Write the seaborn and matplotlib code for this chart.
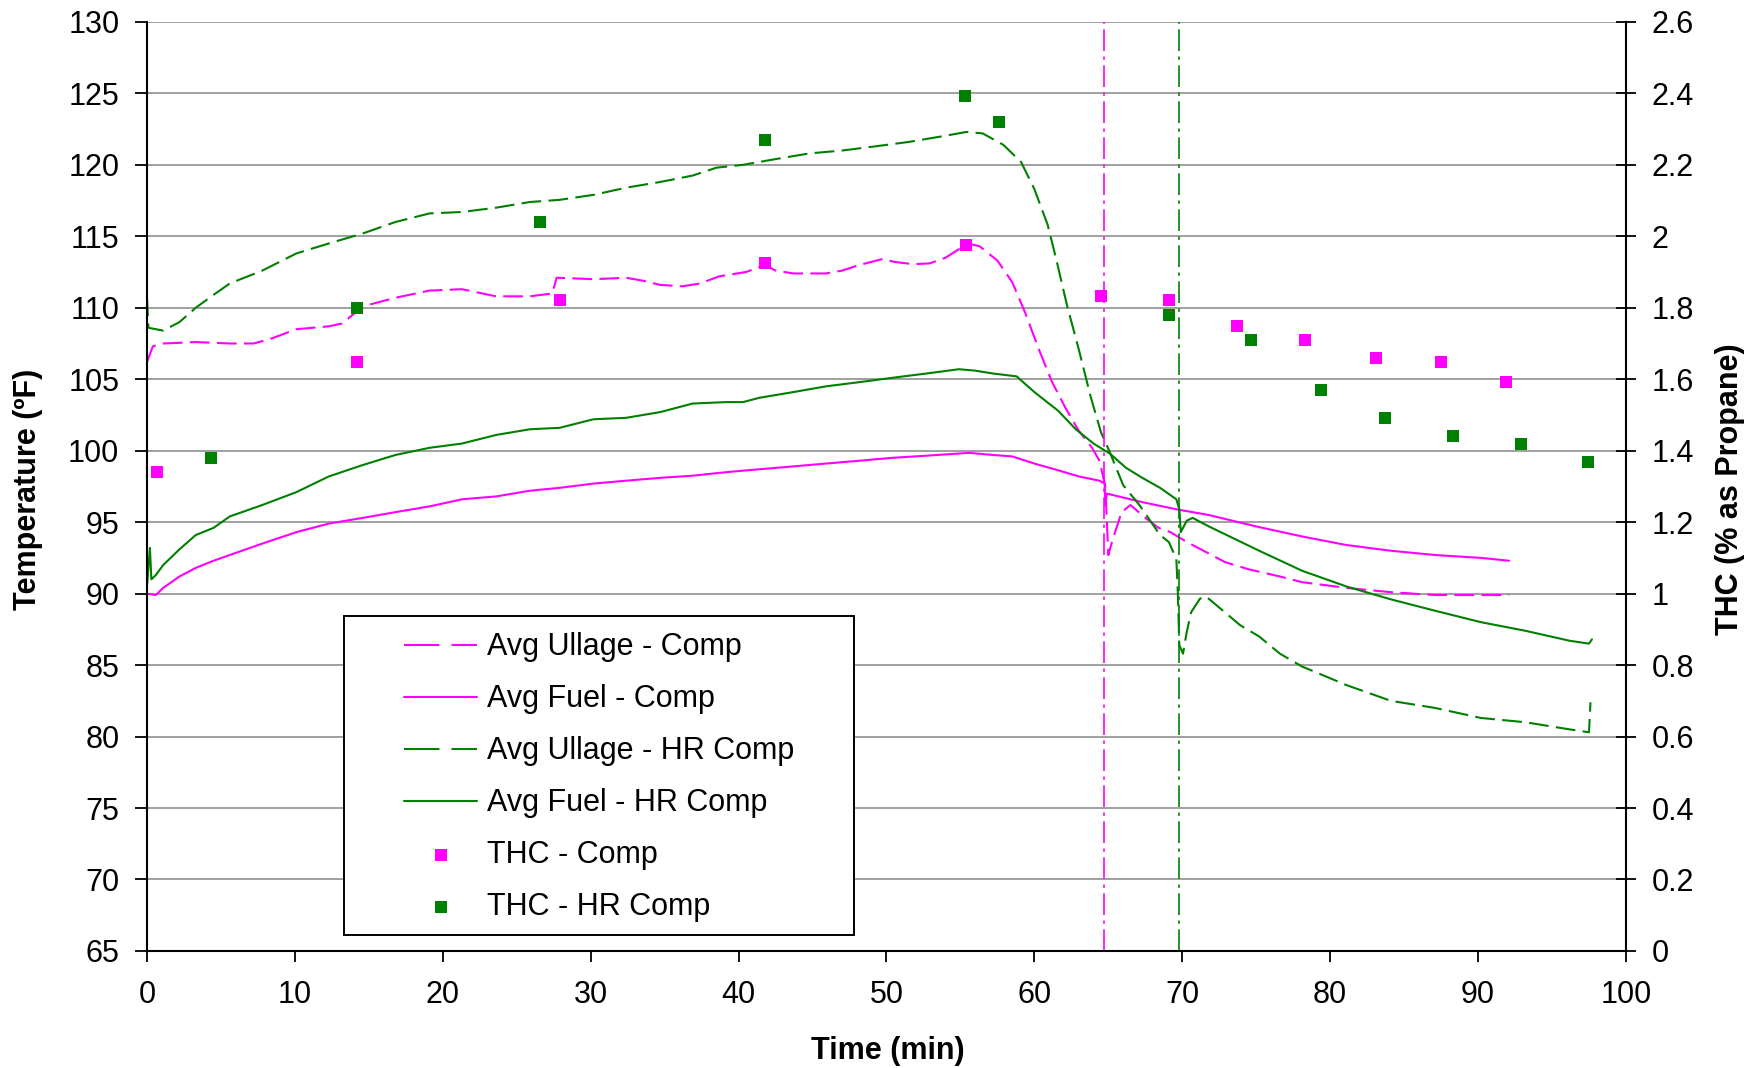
#!/usr/bin/env python3
"""
Ullage / fuel temperatures and THC for the Comp and HR Comp tanks.
Left axis: temperature (lines), right axis: THC (squares).
Writes out.png.
"""
import matplotlib
matplotlib.use("Agg")

import matplotlib.pyplot as plt
import seaborn as sns
from matplotlib.patches import Rectangle

MAGENTA = "#FF00FF"
GREEN = "#008000"

# Avg Ullage - Comp (time in min, temperature in F)
ullage_comp_t = [0.0, 0.4, 1.1, 3.3, 5.6, 7.2, 8.3, 10.1, 12.3, 13.2, 13.9, 14.6, 16.8,
                 19.1, 21.3, 23.6, 25.9, 27.4, 27.7, 30.2, 32.4, 33.5, 34.7, 36.2, 37.4,
                 38.7, 40.5, 41.8, 42.5, 43.7, 45.9, 47.0, 48.2, 49.7, 50.6, 51.8, 52.9,
                 54.0, 54.9, 55.5, 56.3, 57.5, 58.5, 59.4, 60.3, 61.2, 62.1, 63.0, 63.9,
                 64.4, 64.8, 65.0, 65.3, 65.9, 66.5, 67.5, 68.4, 69.2, 70.0, 70.7, 72.9,
                 74.5, 76.6, 78.1, 81.1, 84.1, 87.1, 92.1]
ullage_comp = [106.2, 107.3, 107.5, 107.6, 107.5, 107.5, 107.8, 108.5, 108.7, 108.9, 109.5,
               110.1, 110.7, 111.2, 111.3, 110.8, 110.8, 111.0, 112.1, 112.0, 112.1, 111.9,
               111.6, 111.5, 111.7, 112.2, 112.5, 113.0, 112.6, 112.4, 112.4, 112.6, 113.0,
               113.4, 113.2, 113.05, 113.1, 113.5, 114.1, 114.5, 114.3, 113.3, 111.8, 109.6,
               107.1, 104.8, 103.0, 101.4, 100.2, 99.3, 97.5, 92.7, 93.8, 95.7, 96.2, 95.3,
               94.6, 94.3, 93.8, 93.4, 92.2, 91.7, 91.2, 90.8, 90.4, 90.1, 89.9, 89.9]

# Avg Fuel - Comp
fuel_comp_t = [0.0, 0.6, 1.1, 2.2, 3.3, 4.5, 5.6, 7.8, 10.1, 12.3, 14.6, 16.8, 19.1, 21.3,
               23.6, 25.9, 27.9, 30.2, 32.4, 34.7, 36.9, 39.2, 41.4, 43.7, 45.9, 48.2, 50.4,
               52.7, 55.6, 57.2, 58.5, 60.0, 61.7, 63.0, 64.4, 64.75, 64.8, 64.9, 65.3, 67.3,
               69.6, 71.8, 75.0, 78.1, 81.1, 84.1, 87.1, 90.2, 92.1]
fuel_comp = [90.0, 89.9, 90.4, 91.2, 91.8, 92.3, 92.7, 93.5, 94.3, 94.9, 95.3, 95.7, 96.1,
             96.6, 96.8, 97.2, 97.4, 97.7, 97.9, 98.1, 98.25, 98.5, 98.7, 98.9, 99.1, 99.3,
             99.5, 99.65, 99.85, 99.7, 99.6, 99.1, 98.6, 98.2, 97.9, 97.7, 96.2, 97.0, 96.9,
             96.4, 95.9, 95.5, 94.7, 94.0, 93.4, 93.0, 92.7, 92.5, 92.3]

# Avg Ullage - HR Comp
ullage_hr_t = [0.0, 0.1, 1.1, 2.2, 3.3, 4.5, 5.6, 7.8, 10.1, 12.3, 14.6, 16.8, 19.1, 21.3,
               23.6, 25.9, 27.9, 30.2, 32.4, 34.7, 36.9, 38.5, 40.3, 42.5, 44.8, 47.0, 49.3,
               51.5, 53.8, 55.4, 56.5, 57.9, 59.1, 60.0, 60.9, 61.5, 62.2, 63.0, 63.8, 64.5,
               65.1, 66.0, 67.1, 68.5, 69.1, 69.6, 69.7, 69.8, 70.05, 70.3, 70.6, 71.2, 71.6,
               72.3, 73.9, 75.2, 76.6, 78.1, 81.1, 84.1, 87.1, 90.2, 93.2, 96.2, 97.5, 97.6]
ullage_hr = [110.8, 108.6, 108.4, 109.0, 110.0, 110.9, 111.7, 112.6, 113.8, 114.5, 115.2,
             116.0, 116.6, 116.7, 117.0, 117.4, 117.55, 117.9, 118.4, 118.8, 119.25, 119.8,
             120.0, 120.4, 120.8, 121.0, 121.3, 121.6, 122.0, 122.3, 122.2, 121.4, 120.2,
             118.3, 115.8, 113.3, 110.2, 107.1, 103.8, 101.3, 99.9, 97.6, 96.2, 94.1, 93.6,
             92.4, 90.1, 86.4, 85.8, 87.3, 88.7, 89.65, 89.8, 89.2, 87.8, 87.0, 85.8, 84.9,
             83.6, 82.5, 82.0, 81.3, 81.0, 80.5, 80.3, 82.4]

# Avg Fuel - HR Comp
fuel_hr_t = [0.0, 0.2, 0.3, 0.6, 1.1, 2.2, 3.3, 4.5, 5.6, 7.8, 10.1, 12.3, 14.6, 16.8, 19.1,
             21.3, 23.6, 25.9, 27.9, 30.2, 32.4, 34.7, 36.9, 39.2, 40.3, 41.4, 43.7, 45.9,
             48.2, 50.4, 52.7, 54.9, 56.0, 57.2, 58.8, 60.0, 61.6, 62.8, 64.0, 65.1, 66.2,
             67.3, 68.5, 69.6, 69.8, 69.9, 70.3, 70.7, 71.8, 73.0, 75.2, 78.1, 81.1, 84.1,
             87.1, 90.2, 93.2, 96.2, 97.5, 97.7]
fuel_hr = [90.5, 93.2, 91.0, 91.3, 92.0, 93.1, 94.1, 94.6, 95.4, 96.2, 97.1, 98.2, 99.0,
           99.7, 100.2, 100.5, 101.1, 101.5, 101.6, 102.2, 102.3, 102.7, 103.3, 103.4, 103.4,
           103.7, 104.1, 104.5, 104.8, 105.1, 105.4, 105.7, 105.6, 105.4, 105.2, 104.1, 102.8,
           101.5, 100.5, 99.8, 98.8, 98.1, 97.4, 96.6, 95.9, 94.3, 95.1, 95.3, 94.7, 94.1,
           93.0, 91.6, 90.5, 89.6, 88.8, 88.0, 87.4, 86.7, 86.5, 86.8]

# THC samples (% as propane)
thc_comp_t = [0.7, 14.2, 27.9, 41.8, 55.4, 64.5, 69.1, 73.7, 78.3, 83.1, 87.5, 91.9]
thc_comp = [1.34, 1.648, 1.822, 1.926, 1.975, 1.834, 1.821, 1.749, 1.709, 1.659, 1.648, 1.592]
thc_hr_t = [4.3, 14.2, 26.6, 41.8, 55.3, 57.6, 69.1, 74.65, 79.4, 83.7, 88.3, 92.9, 97.4]
thc_hr = [1.379, 1.799, 2.039, 2.27, 2.394, 2.321, 1.781, 1.709, 1.569, 1.492, 1.44, 1.418, 1.368]

# vertical markers (Comp, HR Comp)
marker_times = [64.7, 69.8]

time_ticks = list(range(0, 101, 10))
temp_ticks = list(range(65, 131, 5))
thc_ticks = [0, 0.2, 0.4, 0.6, 0.8, 1, 1.2, 1.4, 1.6, 1.8, 2, 2.2, 2.4, 2.6]

DASH = (0, (9.5, 3.5))


def main():
    sns.set_style("white")
    plt.rcParams["font.family"] = ["Liberation Sans", "DejaVu Sans"]

    fig = plt.figure(figsize=(17.62, 10.68), dpi=100)
    ax = fig.add_axes([0.0834, 0.1096, 0.8394, 0.8699])
    ax2 = ax.twinx()

    series = [
        (ullage_comp_t, ullage_comp, MAGENTA, DASH, "Avg Ullage - Comp"),
        (fuel_comp_t, fuel_comp, MAGENTA, "-", "Avg Fuel - Comp"),
        (ullage_hr_t, ullage_hr, GREEN, DASH, "Avg Ullage - HR Comp"),
        (fuel_hr_t, fuel_hr, GREEN, "-", "Avg Fuel - HR Comp"),
    ]
    for t, v, c, ls, lab in series:
        sns.lineplot(x=t, y=v, ax=ax, color=c, linestyle=ls, linewidth=1.5,
                     label=lab, sort=False, estimator=None)

    for xt, c in zip(marker_times, [MAGENTA, GREEN]):
        ax.axvline(xt, color=c, lw=1.2, linestyle=(0, (13, 3.3, 2, 3.3)))

    sns.scatterplot(x=thc_comp_t, y=thc_comp, ax=ax2, color=MAGENTA, marker="s",
                    s=80, linewidth=0, label="THC - Comp")
    sns.scatterplot(x=thc_hr_t, y=thc_hr, ax=ax2, color=GREEN, marker="s",
                    s=80, linewidth=0, label="THC - HR Comp")

    for a in (ax, ax2):
        if a.get_legend() is not None:
            a.get_legend().remove()

    # axes, ticks
    ax.set_xlim(0, 100)
    ax.set_ylim(65, 130)
    ax.set_xticks(time_ticks)
    ax.set_yticks(temp_ticks)
    ax.set_axisbelow(True)
    ax.yaxis.grid(True, color="#a0a0a0", lw=1.4)
    ax.xaxis.grid(False)
    ax.tick_params(axis="x", direction="out", length=7.7, width=1.3, pad=13,
                   labelsize=22, bottom=True, colors="black")
    ax.tick_params(axis="y", direction="out", length=8.4, width=1.3, pad=11.5,
                   labelsize=22, left=True, colors="black")

    ax2.set_ylim(0, 2.6)
    ax2.set_yticks(thc_ticks)
    ax2.set_yticklabels([f"{v:g}" for v in thc_ticks])
    ax2.tick_params(axis="y", direction="inout", length=14.4, width=1.3, pad=11.5,
                    labelsize=22, right=True, colors="black")
    ax2.grid(False)

    for name in ("top", "right"):
        ax.spines[name].set_visible(False)
    for name in ("left", "bottom"):
        ax.spines[name].set_color("black")
        ax.spines[name].set_linewidth(1.5)
    for name in ("top", "left", "bottom"):
        ax2.spines[name].set_visible(False)
    ax2.spines["right"].set_color("black")
    ax2.spines["right"].set_linewidth(1.5)

    ax.set_xlabel("Time (min)", fontsize=22, fontweight="bold", color="black", va="center")
    ax.xaxis.set_label_coords(0.501, -0.108)
    ax.set_ylabel("Temperature (ºF)", fontsize=22, fontweight="bold", color="black",
                  va="center")
    ax.yaxis.set_label_coords(-0.0805, 0.497)
    ax2.set_ylabel("THC (% as Propane)", fontsize=22, fontweight="bold", color="black",
                   va="center")
    ax2.yaxis.set_label_coords(1.070, 0.497)

    # legend: white box, contents placed inside
    h1, l1 = ax.get_legend_handles_labels()
    h2, l2 = ax2.get_legend_handles_labels()
    box = Rectangle((0.133, 0.0172), 0.345, 0.343, transform=ax2.transAxes,
                    facecolor="white", edgecolor="black", lw=1.4, zorder=5)
    ax2.add_patch(box)
    leg = ax2.legend(h1 + h2, l1 + l2, loc="center left", bbox_to_anchor=(0.1738, 0.187),
                     frameon=False, fontsize=22, handlelength=2.4, handletextpad=0.3,
                     labelspacing=0.72, borderpad=0, borderaxespad=0)
    leg.set_zorder(6)
    for line in leg.get_lines():
        if line.get_linestyle() not in ("-", "None", ""):
            line.set_linestyle((0, (17, 5.8)))
    for text in leg.get_texts():
        text.set_color("black")

    fig.savefig("out.png", dpi=100)


if __name__ == "__main__":
    main()
